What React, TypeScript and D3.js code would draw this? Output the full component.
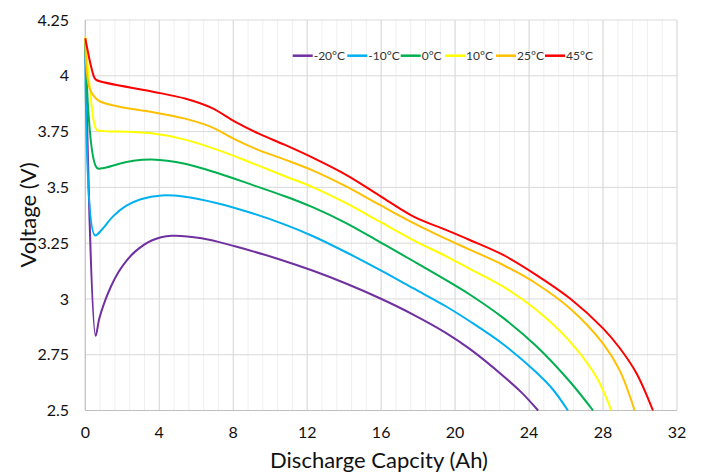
import React from "react";
import * as d3 from "d3";

type Pt = [number, number];

const seriesNames = ["-20°C", "-10°C", "0°C", "10°C", "25°C", "45°C"];
const seriesColors = ["#7030A0", "#00B0F0", "#00B050", "#FFFF00", "#FFC000", "#FF0000"];

const m20: Pt[] = [[0,4.15],[0.56,2.835],[0.75,2.91],[1.06,2.99],[1.4,3.058],[1.78,3.118],[2.2,3.168],[2.69,3.212],[3.59,3.262],[4.67,3.283],[6.29,3.272],[8.09,3.236],[10.52,3.177],[12.32,3.126],[14.13,3.068],[15.93,3.003],[17.73,2.93],[19.54,2.846],[20.79,2.776],[22.6,2.655],[23.6,2.58],[24.49,2.5]];
const m10: Pt[] = [[0,4.15],[0.52,3.285],[0.89,3.31],[1.5,3.37],[2.2,3.417],[3,3.447],[4.13,3.464],[5.39,3.458],[7.19,3.428],[8.99,3.385],[10.8,3.333],[12.32,3.281],[14.13,3.208],[15.93,3.13],[17.73,3.048],[19.54,2.965],[20.79,2.9],[22.6,2.797],[24.4,2.67],[25.3,2.593],[26.1,2.5]];
const t0: Pt[] = [[0,4.15],[0.62,3.588],[1,3.587],[1.8,3.605],[2.6,3.619],[3.59,3.625],[5.39,3.606],[7.19,3.563],[8.99,3.512],[10.8,3.46],[12.32,3.41],[14.13,3.339],[15.93,3.255],[17.73,3.17],[19.54,3.083],[20.79,3.02],[22.6,2.915],[24.4,2.788],[26.2,2.63],[27.46,2.5]];
const t10: Pt[] = [[0,4.175],[0.5,3.78],[0.62,3.757],[1,3.752],[1.78,3.75],[3.59,3.742],[5.39,3.714],[7.19,3.667],[8.99,3.61],[10.8,3.55],[12.32,3.5],[14.13,3.428],[15.93,3.346],[17.73,3.264],[19.54,3.19],[20.79,3.135],[22.6,3.055],[24.4,2.95],[26.2,2.81],[27.64,2.65],[28.45,2.5]];
const t25: Pt[] = [[0,4.16],[0.25,3.94],[0.7,3.89],[1.78,3.862],[3.59,3.838],[5.39,3.808],[6.83,3.77],[8.09,3.715],[9.35,3.668],[10.8,3.624],[12.32,3.575],[14.13,3.503],[15.93,3.421],[17.73,3.341],[19.54,3.268],[20.79,3.221],[22.6,3.152],[24.4,3.068],[26.2,2.958],[28.0,2.8],[28.9,2.68],[29.71,2.5]];
const t45: Pt[] = [[0,4.168],[0.5,3.99],[0.62,3.98],[3.59,3.93],[5.39,3.898],[6.83,3.856],[8.09,3.795],[9.35,3.742],[10.8,3.69],[12.32,3.632],[14.13,3.555],[15.93,3.462],[17.73,3.37],[19.54,3.308],[20.79,3.264],[22.6,3.197],[24.4,3.107],[26.2,3.003],[28.0,2.868],[28.9,2.78],[29.8,2.668],[30.7,2.5]];

const seriesData: Pt[][] = [m20, m10, t0, t10, t25, t45];

const xTicks = [0, 4, 8, 12, 16, 20, 24, 28, 32];
const yTicks = [2.5, 2.75, 3, 3.25, 3.5, 3.75, 4, 4.25];
const yTickLabels = ["2.5", "2.75", "3", "3.25", "3.5", "3.75", "4", "4.25"];

const W = 701, H = 473;
const L = 85.3, R = 677, T = 20, B = 410.5;
const FONT = "Lato, 'Open Sans', sans-serif";

export default function App() {
  const x = d3.scaleLinear().domain([0, 32]).range([L, R]);
  const y = d3.scaleLinear().domain([2.5, 4.25]).range([B, T]);
  const line = d3.line<Pt>().x(d => x(d[0])).y(d => y(d[1])).curve(d3.curveCatmullRom.alpha(0.5));
  const minor = d3.range(0, 32.001, 0.8);

  const legendX = [292.7, 347.3, 400.7, 445, 496, 545];

  return (
    <svg width={W} height={H} style={{ position: "absolute", left: 0, top: 0, background: "#fff" }} fontFamily={FONT}>
      <rect x={0} y={0} width={W} height={H} fill="#fff" />
      {minor.map((v, i) => (
        <line key={"mn" + i} x1={x(v)} x2={x(v)} y1={T} y2={B} stroke="#F0F0F0" strokeWidth={1} />
      ))}
      {xTicks.map(v => (
        <line key={"gx" + v} x1={x(v)} x2={x(v)} y1={T} y2={B} stroke="#D9D9D9" strokeWidth={1} />
      ))}
      {yTicks.map(v => (
        <line key={"gy" + v} x1={L} x2={R} y1={y(v)} y2={y(v)} stroke="#D9D9D9" strokeWidth={1} />
      ))}
      <line x1={L} x2={L} y1={T} y2={B} stroke="#BFBFBF" strokeWidth={1} />
      <line x1={L} x2={R} y1={B} y2={B} stroke="#BFBFBF" strokeWidth={1} />

      {seriesData.map((d, i) => (
        <path key={"s" + i} d={line(d) || ""} fill="none" stroke={seriesColors[i]} strokeWidth={2} />
      ))}

      {yTicks.map((v, i) => (
        <text key={"yl" + v} x={69} y={y(v)} dy="0.35em" textAnchor="end" fontSize={16} fill="#111">{yTickLabels[i]}</text>
      ))}
      {xTicks.map(v => (
        <text key={"xl" + v} x={x(v)} y={432} dy="0.35em" textAnchor="middle" fontSize={16} fill="#111">{v}</text>
      ))}
      <text x={379} y={460} dy="0.35em" textAnchor="middle" fontSize={22} fill="#111">Discharge Capcity (Ah)</text>
      <text transform={`translate(28,215) rotate(-90)`} textAnchor="middle" dy="0.35em" fontSize={22} fill="#111">Voltage (V)</text>

      {seriesNames.map((n, i) => (
        <g key={"lg" + i}>
          <line x1={legendX[i]} x2={legendX[i] + 20} y1={55.7} y2={55.7} stroke={seriesColors[i]} strokeWidth={2.5} />
          <text x={legendX[i] + 21} y={55.7} dy="0.35em" fontSize={12} fill="#333">{n}</text>
        </g>
      ))}
    </svg>
  );
}
